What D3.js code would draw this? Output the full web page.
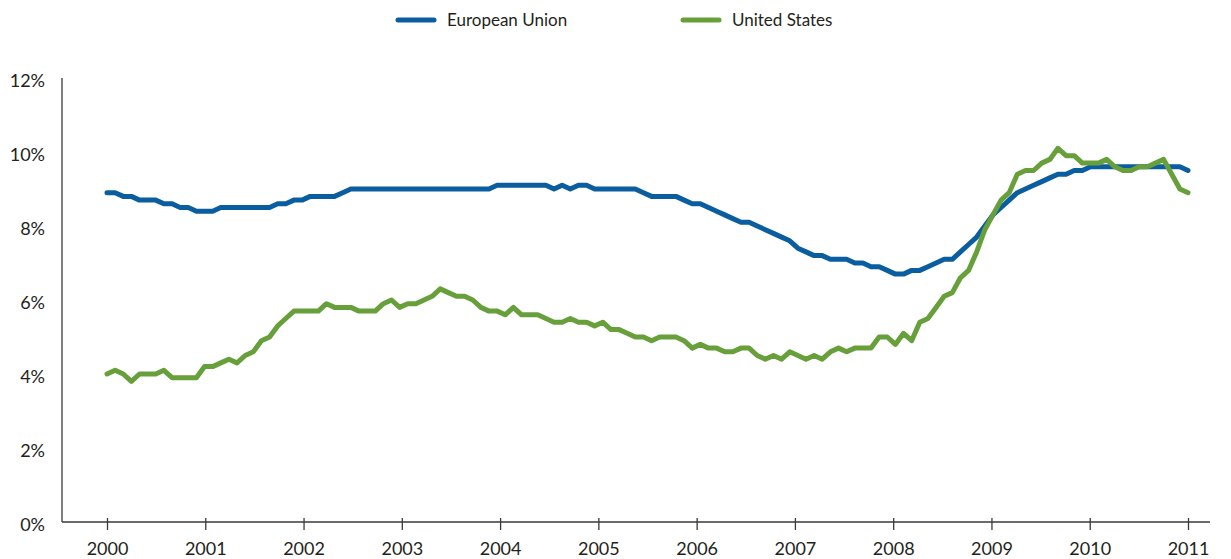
<!DOCTYPE html>
<html>
<head>
<meta charset="utf-8">
<script src="https://cdn.jsdelivr.net/npm/d3@7"></script>
<style>
	body { margin: 0; background: #fff; }
	text { font-family: Lato, "Open Sans", sans-serif; fill: #231f20; }
</style>
</head>
<body>
<div id="container"></div>
<script>
// 1. Data (monthly unemployment rate, %, Jan 2000 - Feb 2011)
const years = d3.range(2000, 2012)
const yTicks = [0, 2, 4, 6, 8, 10, 12]

const euRate = [
	8.9, 8.9, 8.8, 8.8, 8.7, 8.7, 8.7, 8.6, 8.6, 8.5, 8.5, 8.4,
	8.4, 8.4, 8.5, 8.5, 8.5, 8.5, 8.5, 8.5, 8.5, 8.6, 8.6, 8.7,
	8.7, 8.8, 8.8, 8.8, 8.8, 8.9, 9.0, 9.0, 9.0, 9.0, 9.0, 9.0,
	9.0, 9.0, 9.0, 9.0, 9.0, 9.0, 9.0, 9.0, 9.0, 9.0, 9.0, 9.0,
	9.1, 9.1, 9.1, 9.1, 9.1, 9.1, 9.1, 9.0, 9.1, 9.0, 9.1, 9.1,
	9.0, 9.0, 9.0, 9.0, 9.0, 9.0, 8.9, 8.8, 8.8, 8.8, 8.8, 8.7,
	8.6, 8.6, 8.5, 8.4, 8.3, 8.2, 8.1, 8.1, 8.0, 7.9, 7.8, 7.7,
	7.6, 7.4, 7.3, 7.2, 7.2, 7.1, 7.1, 7.1, 7.0, 7.0, 6.9, 6.9,
	6.8, 6.7, 6.7, 6.8, 6.8, 6.9, 7.0, 7.1, 7.1, 7.3, 7.5, 7.7,
	8.0, 8.3, 8.5, 8.7, 8.9, 9.0, 9.1, 9.2, 9.3, 9.4, 9.4, 9.5,
	9.5, 9.6, 9.6, 9.6, 9.6, 9.6, 9.6, 9.6, 9.6, 9.6, 9.6, 9.6,
	9.6, 9.5,
]

const usRate = [
	4.0, 4.1, 4.0, 3.8, 4.0, 4.0, 4.0, 4.1, 3.9, 3.9, 3.9, 3.9,
	4.2, 4.2, 4.3, 4.4, 4.3, 4.5, 4.6, 4.9, 5.0, 5.3, 5.5, 5.7,
	5.7, 5.7, 5.7, 5.9, 5.8, 5.8, 5.8, 5.7, 5.7, 5.7, 5.9, 6.0,
	5.8, 5.9, 5.9, 6.0, 6.1, 6.3, 6.2, 6.1, 6.1, 6.0, 5.8, 5.7,
	5.7, 5.6, 5.8, 5.6, 5.6, 5.6, 5.5, 5.4, 5.4, 5.5, 5.4, 5.4,
	5.3, 5.4, 5.2, 5.2, 5.1, 5.0, 5.0, 4.9, 5.0, 5.0, 5.0, 4.9,
	4.7, 4.8, 4.7, 4.7, 4.6, 4.6, 4.7, 4.7, 4.5, 4.4, 4.5, 4.4,
	4.6, 4.5, 4.4, 4.5, 4.4, 4.6, 4.7, 4.6, 4.7, 4.7, 4.7, 5.0,
	5.0, 4.8, 5.1, 4.9, 5.4, 5.5, 5.8, 6.1, 6.2, 6.6, 6.8, 7.3,
	7.9, 8.3, 8.7, 8.9, 9.4, 9.5, 9.5, 9.7, 9.8, 10.1, 9.9, 9.9,
	9.7, 9.7, 9.7, 9.8, 9.6, 9.5, 9.5, 9.6, 9.6, 9.7, 9.8, 9.4,
	9.0, 8.9,
]

const series = [
	{ name: "European Union", values: euRate, color: "#0a5e9f" },
	{ name: "United States", values: usRate, color: "#67a03a" },
]

// 2. Dimensions
const width = 1231
const height = 559
const axisLeft = 62
const axisRight = 1210
const plotTop = 78
const plotBottom = 522
const firstX = 107
const lastX = 1188

// 3. Canvas
const svg = d3.select("#container")
	.append("svg")
	.attr("width", width)
	.attr("height", height)

// 4. Scales
const n = euRate.length
const x = d3.scaleLinear().domain([0, n - 1]).range([firstX, lastX])
const xYear = d3.scaleLinear().domain([2000, 2011]).range([firstX, lastX])
const y = d3.scaleLinear().domain([0, 12]).range([plotBottom, plotTop])

// 5. Axes
const axisColor = "#3a3a3a"

svg.append("line")
	.attr("x1", axisLeft).attr("x2", axisLeft)
	.attr("y1", y(12)).attr("y2", y(0))
	.attr("stroke", axisColor).attr("stroke-width", 1.3)

svg.append("line")
	.attr("x1", axisLeft).attr("x2", axisRight)
	.attr("y1", y(0)).attr("y2", y(0))
	.attr("stroke", axisColor).attr("stroke-width", 1.3)

const xAxis = svg.append("g")
	.attr("transform", `translate(0,${plotBottom})`)
	.call(d3.axisBottom(xYear).tickValues(years).tickFormat(d3.format("d")).tickSize(8).tickPadding(12))

xAxis.select(".domain").remove()
xAxis.selectAll(".tick line")
	.attr("y1", -4)
	.attr("y2", 8)
	.attr("stroke", axisColor)
	.attr("stroke-width", 1.3)
xAxis.selectAll(".tick text")
	.attr("font-size", 18)
	.attr("font-family", "Lato, sans-serif")
	.attr("fill", "#231f20")

const yAxis = svg.append("g")
	.attr("transform", `translate(${axisLeft},0)`)
	.call(d3.axisLeft(y).tickValues(yTicks).tickFormat(d => d + "%").tickSize(0).tickPadding(17))

yAxis.select(".domain").remove()
yAxis.selectAll(".tick text")
	.attr("font-size", 18)
	.attr("font-family", "Lato, sans-serif")
	.attr("fill", "#231f20")
	.attr("dy", "0.45em")

// 6. Lines
const line = d3.line()
	.x((d, i) => x(i))
	.y(d => y(d))

svg.append("g")
	.selectAll("path")
	.data(series)
	.join("path")
	.attr("d", d => line(d.values))
	.attr("fill", "none")
	.attr("stroke", d => d.color)
	.attr("stroke-width", 5)
	.attr("stroke-linejoin", "round")
	.attr("stroke-linecap", "round")

// 7. Legend
const legendX = [398, 683]
const legend = svg.append("g")
	.selectAll("g")
	.data(series)
	.join("g")
	.attr("transform", (d, i) => `translate(${legendX[i]},20)`)

legend.append("line")
	.attr("x1", 0).attr("x2", 36)
	.attr("stroke", d => d.color)
	.attr("stroke-width", 5)
	.attr("stroke-linecap", "round")

legend.append("text")
	.attr("x", 49)
	.attr("dy", "0.35em")
	.attr("font-size", 17)
	.text(d => d.name)
</script>
</body>
</html>
